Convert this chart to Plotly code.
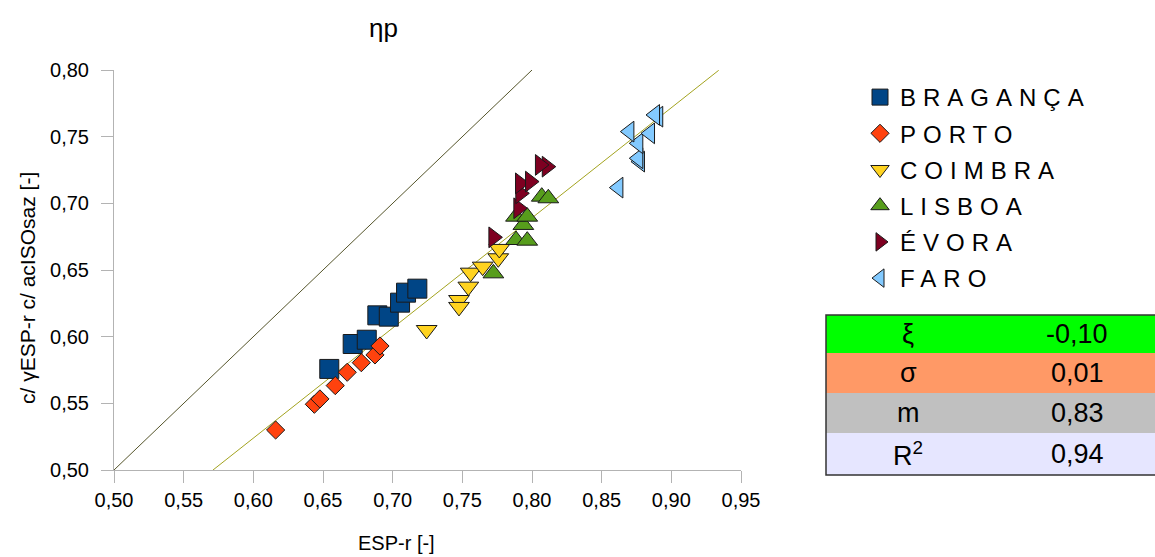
import plotly.graph_objects as go

# ---------------- data ----------------
braganca_x = [0.6545, 0.6713, 0.6814, 0.6890, 0.6972, 0.7053, 0.7096, 0.7177]
braganca_y = [0.5758, 0.5945, 0.5977, 0.6160, 0.6150, 0.6255, 0.6330, 0.6360]

porto_x = [0.6160, 0.6438, 0.6478, 0.6588, 0.6674, 0.6775, 0.6873, 0.6909]
porto_y = [0.5300, 0.5493, 0.5533, 0.5633, 0.5733, 0.5805, 0.5863, 0.5930]

coimbra_x = [0.7244, 0.7476, 0.7476, 0.7543, 0.7560, 0.7646, 0.7758, 0.7765]
coimbra_y = [0.6050, 0.6275, 0.6223, 0.6375, 0.6480, 0.6525, 0.6588, 0.6658]

lisboa_x = [0.7723, 0.7885, 0.7966, 0.7938, 0.7885, 0.7966, 0.8070, 0.8117]
lisboa_y = [0.6475, 0.6725, 0.6720, 0.6838, 0.6900, 0.6900, 0.7050, 0.7038]

evora_x = [0.7723, 0.7902, 0.7916, 0.7914, 0.7986, 0.8106, 0.8057]
evora_y = [0.6745, 0.6963, 0.7075, 0.7150, 0.7163, 0.7275, 0.7288]

faro_x = [0.8620, 0.8775, 0.8763, 0.8763, 0.8699, 0.8847, 0.8906, 0.8883]
faro_y = [0.7118, 0.7313, 0.7338, 0.7450, 0.7538, 0.7525, 0.7650, 0.7663]

identity_x = [0.50, 0.80]
fit_slope = 0.826
fit_intercept = 0.0283
fit_x = [0.571, 0.934]

x_ticks = [0.50, 0.55, 0.60, 0.65, 0.70, 0.75, 0.80, 0.85, 0.90, 0.95]
y_ticks = [0.50, 0.55, 0.60, 0.65, 0.70, 0.75, 0.80]

table_labels = ["ξ", "σ", "m", "R<sup>2</sup>"]
table_values = ["-0,10", "0,01", "0,83", "0,94"]
table_colors = ["#00ff00", "#ff9966", "#c0c0c0", "#e6e6ff"]

series = [
    ("BRAGANÇA", braganca_x, braganca_y, "square", 19, "#004586"),
    ("PORTO", porto_x, porto_y, "diamond", 14, "#ff420e"),
    ("COIMBRA", coimbra_x, coimbra_y, "triangle-down", 18, "#ffd320"),
    ("LISBOA", lisboa_x, lisboa_y, "triangle-up", 18, "#579d1c"),
    ("ÉVORA", evora_x, evora_y, "triangle-right", 18, "#7e0021"),
    ("FARO", faro_x, faro_y, "triangle-left", 18, "#83caff"),
]

FONT = "Liberation Sans, Arial, sans-serif"

fig = go.Figure()

# reference lines
fig.add_trace(go.Scatter(x=identity_x, y=identity_x, mode="lines",
                         line=dict(color="#55552b", width=1),
                         showlegend=False, hoverinfo="skip"))
fig.add_trace(go.Scatter(x=fit_x, y=[fit_slope * v + fit_intercept for v in fit_x],
                         mode="lines", line=dict(color="#a3a31f", width=1),
                         showlegend=False, hoverinfo="skip"))

for i, (name, xs, ys, sym, size, col) in enumerate(series):
    fig.add_trace(go.Scatter(
        x=xs, y=ys, mode="markers",
        name='<span style="letter-spacing:7px">' + name + '</span>',
        legendgroup="g%d" % i,
        marker=dict(symbol=sym, size=size, color=col,
                    line=dict(color="#1a1a1a", width=1)),
    ))

# ---- table (pixel -> paper helpers) ----
PL, PR, PT, PB = 114, 741, 70, 470
def px(xp):
    return (xp - PL) / (PR - PL)
def py(yp):
    return (PB - yp) / (PB - PT)

row_edges = [315, 353, 393, 433, 475]
shapes = []
annotations = []
for i in range(4):
    shapes.append(dict(type="rect", xref="paper", yref="paper",
                       x0=px(826), x1=px(1156), y0=py(row_edges[i + 1]), y1=py(row_edges[i]),
                       fillcolor=table_colors[i], line=dict(width=0), layer="below"))
    yc = py((row_edges[i] + row_edges[i + 1]) / 2)
    annotations.append(dict(text=table_labels[i], xref="paper", yref="paper",
                            x=px(908), y=yc, showarrow=False, xanchor="center", yanchor="middle",
                            font=dict(family=FONT, size=27, color="#000000")))
    annotations.append(dict(text=table_values[i], xref="paper", yref="paper",
                            x=px(1077), y=yc, showarrow=False, xanchor="center", yanchor="middle",
                            font=dict(family=FONT, size=27, color="#000000")))
shapes.append(dict(type="rect", xref="paper", yref="paper",
                   x0=px(826), x1=px(1160), y0=py(475), y1=py(315),
                   line=dict(color="#333333", width=1.5), fillcolor="rgba(0,0,0,0)"))

# title & axis titles as annotations
annotations.append(dict(text="ηp", xref="paper", yref="paper", x=px(383), y=py(28),
                        showarrow=False, xanchor="center", yanchor="middle",
                        font=dict(family=FONT, size=26, color="#000000")))
annotations.append(dict(text="ESP-r [-]", xref="paper", yref="paper", x=px(396), y=py(543),
                        showarrow=False, xanchor="center", yanchor="middle",
                        font=dict(family=FONT, size=20, color="#000000")))
annotations.append(dict(text="c/ γESP-r c/ acISOsaz [-]", xref="paper", yref="paper",
                        x=px(27), y=py(288), textangle=-90,
                        showarrow=False, xanchor="center", yanchor="middle",
                        font=dict(family=FONT, size=21, color="#000000")))

axis_common = dict(showline=True, linecolor="#b3b3b3", linewidth=1, ticks="outside",
                   ticklen=12, tickcolor="#b3b3b3", tickwidth=1, showgrid=False,
                   zeroline=False, tickformat=".2f", mirror=False,
                   tickfont=dict(family=FONT, size=20, color="#000000"))

fig.update_layout(
    width=1155, height=557,
    margin=dict(l=PL, r=1155 - PR, t=PT, b=557 - PB),
    paper_bgcolor="white", plot_bgcolor="white",
    separators=", ",
    showlegend=True,
    legend=dict(x=px(860), y=py(75), xanchor="left", yanchor="top",
                font=dict(family=FONT, size=24, color="#000000"),
                tracegroupgap=2, bgcolor="rgba(0,0,0,0)"),
    xaxis=dict(range=[0.5, 0.95], tickvals=x_ticks, **axis_common),
    yaxis=dict(range=[0.5, 0.8], tickvals=y_ticks, ticklabelstandoff=8, **axis_common),
    shapes=shapes,
    annotations=annotations,
)

fig.write_html("out.html", config={"displayModeBar": False},
               post_script="document.body.style.margin='0px';document.body.style.padding='0px';")
